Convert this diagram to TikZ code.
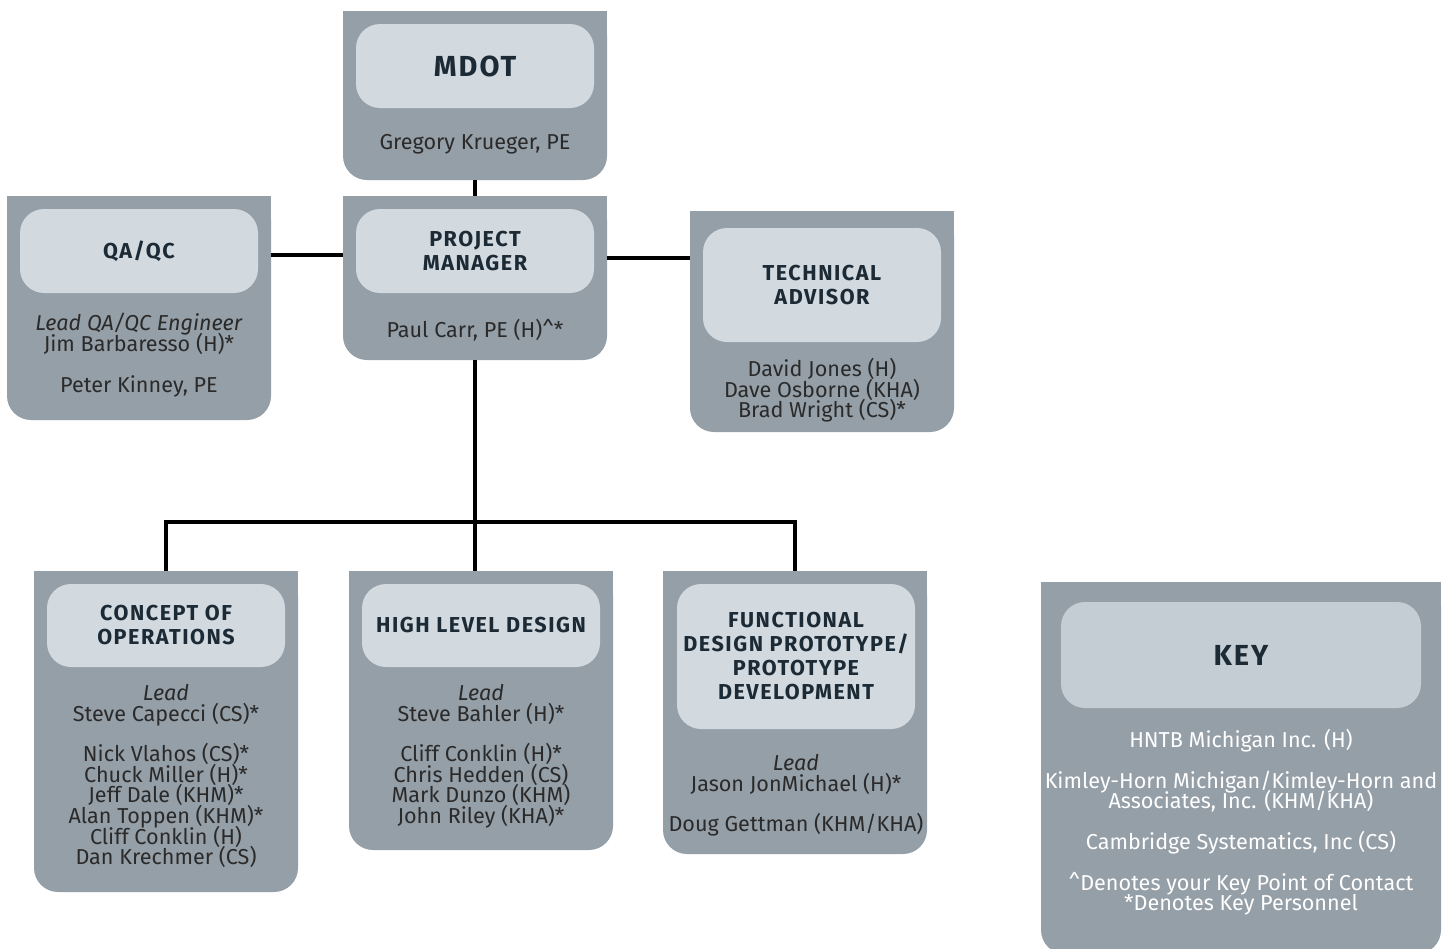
\documentclass[tikz,border=0pt]{standalone}
\usepackage{fontspec}
\setmainfont{Fira Sans}
\newfontfamily\headfont{Fira Sans}[LetterSpace=7]
\newcommand\namefont{\fontsize{10.8}{10.3}\selectfont\lineskiplimit=-6pt\relax}
\definecolor{boxgray}{HTML}{959FA7}
\definecolor{headfill}{HTML}{D2D9DF}
\definecolor{keyfill}{HTML}{C4CDD4}
\definecolor{headtext}{HTML}{1B2A35}
\definecolor{nametext}{HTML}{2A2A2A}

\begin{document}
\begin{tikzpicture}[
    x=0.5pt, y=-0.5pt,
    outerbox/.style={fill=boxgray, rounded corners=12pt, inner sep=0pt, minimum width=132pt},
    headbox/.style={fill=headfill, rounded corners=12pt, inner sep=0pt, minimum width=119pt,
        align=center, text=headtext, font=\headfont\bfseries\fontsize{10.8}{12}\selectfont},
    bighead/.style={headbox, font=\headfont\bfseries\fontsize{14.5}{16}\selectfont},
    names/.style={anchor=north, inner sep=0pt, align=center, text=nametext, font=\namefont},
    link/.style={line width=2pt, black}
]
\clip (0,0) rectangle (1446,948);

% Outer boxes
\node[outerbox, minimum height=84.5pt] (mdot) at (475,95.5) {};
\node[outerbox, minimum height=82pt] (pm) at (475,278) {};
\node[outerbox, minimum height=112pt] (qa) at (139,308) {};
\node[outerbox, minimum height=110.5pt] (tech) at (822,321.5) {};
\node[outerbox, minimum height=160.5pt] (conops) at (166,731.5) {};
\node[outerbox, minimum height=139.5pt] (hld) at (481,710.5) {};
\node[outerbox, minimum height=141.5pt] (fdp) at (795,712.5) {};
\node[outerbox, minimum width=200pt, minimum height=186pt] (key) at (1241,768) {};

% square top corners
\foreach \b in {mdot,pm,qa,tech,conops,hld,fdp,key}
    \fill[boxgray] (\b.north west) rectangle ([yshift=-20pt]\b.north east);

% Headings
\node[bighead, minimum height=42pt] (mdothead) at (475,66) {MDOT};
\node[headbox, minimum height=42pt] (pmhead) at (475,251) {PROJECT\\MANAGER};
\node[headbox, minimum height=42pt] (qahead) at (139,251) {QA/QC};
\node[headbox, minimum height=57pt] (techhead) at (822,285) {TECHNICAL\\ADVISOR};
\node[headbox, minimum height=41.5pt] (conopshead) at (166,625.5) {CONCEPT OF\\OPERATIONS};
\node[headbox, minimum height=41.5pt] (hldhead) at (481,625.5) {HIGH LEVEL DESIGN};
\node[headbox, minimum height=72.5pt] (fdphead) at (796,656.5)
    {FUNCTIONAL\\DESIGN PROTOTYPE/\\PROTOTYPE\\DEVELOPMENT};
\node[bighead, fill=keyfill, minimum width=180pt, minimum height=53pt] (keyhead) at (1241,655) {KEY};

% Names
\node[names] (mdotname) at (475,134) {Gregory Krueger, PE};
\node[names] (pmname) at (475,319) {Paul Carr, PE (H)\textasciicircum*};
\node[names] (qaname) at (139,313)
    {\textit{Lead QA/QC Engineer}\\Jim Barbaresso (H)*\\[10pt]Peter Kinney, PE};
\node[names] (techname) at (822,358)
    {David Jones (H)\\Dave Osborne (KHA)\\Brad Wright (CS)*};
\node[names] (conopsname) at (166,684)
    {\textit{Lead}\\Steve Capecci (CS)*\\[10pt]Nick Vlahos (CS)*\\Chuck Miller (H)*\\
     Jeff Dale (KHM)*\\Alan Toppen (KHM)*\\Cliff Conklin (H)\\Dan Krechmer (CS)};
\node[names] (hldname) at (481,684)
    {\textit{Lead}\\Steve Bahler (H)*\\[10pt]Cliff Conklin (H)*\\Chris Hedden (CS)\\
     Mark Dunzo (KHM)\\John Riley (KHA)*};
\node[names] (fdpname) at (796,754)
    {\textit{Lead}\\Jason JonMichael (H)*\\[10pt]Doug Gettman (KHM/KHA)};
\node[names, text=white] (keyname) at (1241,729)
    {HNTB Michigan Inc. (H)\\[10pt]Kimley-Horn Michigan/Kimley-Horn and\\
     Associates, Inc. (KHM/KHA)\\[10pt]Cambridge Systematics, Inc (CS)\\[10pt]
     \textasciicircum Denotes your Key Point of Contact\\*Denotes Key Personnel};

% Connectors
\coordinate (split) at (475,522);
\draw[link] (mdot) -- (pm);
\draw[link] ([yshift=-2pt]qa.east |- qahead) -- ([yshift=-2pt]pm.west |- qahead);
\draw[link] ([yshift=-3.5pt]pm.east |- pmhead) -- ([yshift=-3.5pt]tech.west |- pmhead);
\draw[link] (pm.south) -- (split);
\draw[link] (conops.north) |- (split) -| (fdp.north);
\draw[link] (split) -- (split |- hld.north);

\end{tikzpicture}
\end{document}
